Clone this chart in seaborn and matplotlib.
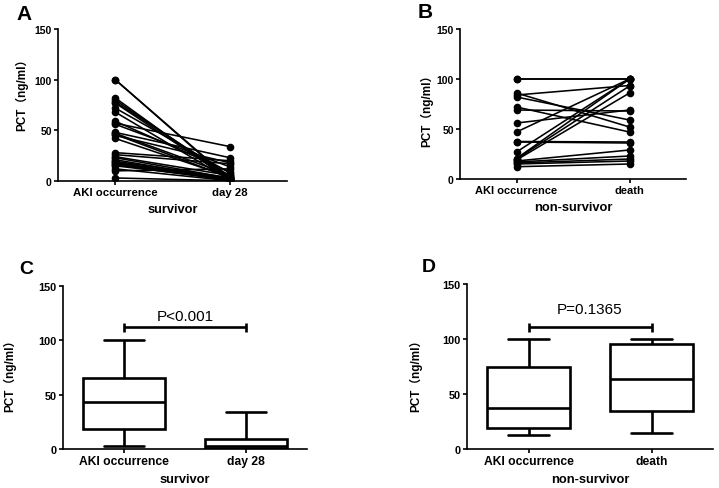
import numpy as np
import pandas as pd
import matplotlib
matplotlib.use("Agg")
import matplotlib.pyplot as plt
import seaborn as sns

# ---- data ----
times_surv = ["AKI occurrence", "day 28"]
times_non = ["AKI occurrence", "death"]

surv_aki = [100, 100, 82, 80, 78, 77, 72, 68, 59, 57, 56, 48, 47, 46, 45, 42,
            28, 26, 24, 23, 21, 19.5, 18.5, 18, 17, 16, 15, 12, 10, 3]
surv_d28 = [1, 2, 0.5, 3, 5, 2, 8, 1, 9, 34, 14, 23, 6, 3.5, 18, 4,
            20, 17, 5.5, 2.8, 1.5, 3.2, 0.8, 2.5, 1.2, 0.6, 1.8, 0.3, 12, 0.2]

non_aki = [100, 86, 84, 82, 72, 69, 56, 47, 37.5, 37, 27, 20.5, 20, 19, 18,
           17, 16, 15, 12.3, 100]
non_death = [100, 52, 93.5, 59, 47, 68, 69, 100, 37, 36, 100, 100, 93, 86, 29,
             23, 20, 18, 15, 100]

p_texts = ["P<0.001", "P=0.1365"]
group_labels = ["survivor", "non-survivor"]
yticks = [0, 50, 100, 150]


def long_df(a, b, times):
    n = len(a)
    return pd.DataFrame({
        "subject": list(range(n)) * 2,
        "time": [times[0]] * n + [times[1]] * n,
        "value": list(a) + list(b),
    })


df_s = long_df(surv_aki, surv_d28, times_surv)
df_n = long_df(non_aki, non_death, times_non)

sns.set_style("ticks")
plt.rcParams["font.family"] = ["Liberation Sans", "Noto Sans CJK SC", "DejaVu Sans"]
plt.rcParams["axes.linewidth"] = 1.2
plt.rcParams["xtick.major.width"] = 1.2
plt.rcParams["ytick.major.width"] = 1.2
plt.rcParams["xtick.major.size"] = 3
plt.rcParams["ytick.major.size"] = 3
plt.rcParams["text.color"] = "black"
plt.rcParams["axes.labelcolor"] = "black"
plt.rcParams["xtick.color"] = "black"
plt.rcParams["ytick.color"] = "black"
plt.rcParams["axes.edgecolor"] = "black"

fig = plt.figure(figsize=(7.19, 4.89), dpi=100)
W, H = 719, 489


def axes_px(l, r, t, b):
    return fig.add_axes([l / W, (H - b) / H, (r - l) / W, (b - t) / H])


axA = axes_px(58, 287, 30, 182)
axB = axes_px(460, 686, 30, 180)
axC = axes_px(63, 307, 287, 450)
axD = axes_px(467, 713, 285, 450)

ylab = "PCT\uff08ng/ml\uff09"


def style(ax, xlabel, tick_fs, ylab_pos, xl_fs=9.3):
    ax.set_ylim(0, 150)
    ax.set_xlim(-0.5, 1.5)
    ax.set_yticks(yticks)
    ax.set_yticklabels([str(t) for t in yticks], fontsize=tick_fs[0], fontweight="bold")
    for lab in ax.get_xticklabels():
        lab.set_fontsize(tick_fs[1])
        lab.set_fontweight("bold")
    ax.set_xlabel(xlabel, fontsize=xl_fs, fontweight="bold", labelpad=4)
    ax.set_ylabel(ylab, fontsize=8.5, fontweight="bold")
    ax.yaxis.set_label_coords(*ylab_pos)
    sns.despine(ax=ax)
    ax.tick_params(axis="both", pad=1.5, colors="black")


# A and B: paired lines
for ax, df in [(axA, df_s), (axB, df_n)]:
    sns.lineplot(data=df, x="time", y="value", units="subject", estimator=None,
                 color="black", linewidth=1.15, marker="o", markersize=5.5,
                 markeredgewidth=0, ax=ax, sort=False)

style(axA, group_labels[0], (7.5, 8.2), (-0.131, 0.595))
style(axB, group_labels[1], (7.5, 8.0), (-0.120, 0.48))

# C and D: boxplots
for ax, df in [(axC, df_s), (axD, df_n)]:
    sns.boxplot(data=df, x="time", y="value", whis=(0, 100), width=0.67,
                color="white", linecolor="black", linewidth=1.9, fliersize=0,
                ax=ax)

style(axC, group_labels[0], (7.9, 8.7), (-0.193, 0.472))
style(axD, group_labels[1], (7.9, 8.7), (-0.183, 0.467))

# significance bars
for ax, ybar, ytxt, txt in [(axC, 112, 122.5, p_texts[0]), (axD, 110.6, 127.5, p_texts[1])]:
    ax.plot([0, 1], [ybar, ybar], color="black", lw=1.9, solid_capstyle="butt")
    for xv in (0, 1):
        ax.plot([xv, xv], [ybar - 4.3, ybar + 4.3], color="black", lw=1.9,
                solid_capstyle="butt")
    ax.text(0.5, ytxt, txt, ha="center", va="center", fontsize=11)

# panel letters
for letter, x, y, fs in [("A", 24, 14, 15), ("B", 425, 13, 15),
                         ("C", 26, 270, 14), ("D", 429, 268, 14)]:
    fig.text(x / W, 1 - y / H, letter, ha="center", va="center",
             fontsize=fs, fontweight="bold")

fig.savefig("out.png", dpi=100)
